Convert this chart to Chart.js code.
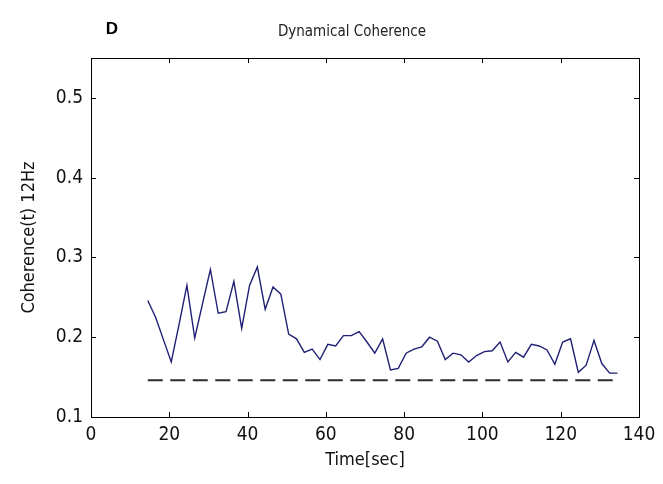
<!DOCTYPE html>
<html>
<head>
<meta charset="utf-8">
<script src="https://cdn.jsdelivr.net/npm/chart.js@4"></script>
<style>
  body { margin: 0; background: #fff; }
</style>
</head>
<body>
<canvas id="myChart" width="663" height="484"></canvas>
<script>
// Coherence over time (12 Hz)
const timeSec = [14.5, 16.5, 18.5, 20.5, 22.5, 24.5, 26.5, 28.5, 30.5, 32.5,
  34.5, 36.5, 38.5, 40.5, 42.5, 44.5, 46.5, 48.5, 50.5, 52.5,
  54.5, 56.5, 58.5, 60.5, 62.5, 64.5, 66.5, 68.5, 70.5, 72.5,
  74.5, 76.5, 78.5, 80.5, 82.5, 84.5, 86.5, 88.5, 90.5, 92.5,
  94.5, 96.5, 98.5, 100.5, 102.5, 104.5, 106.5, 108.5, 110.5, 112.5,
  114.5, 116.5, 118.5, 120.5, 122.5, 124.5, 126.5, 128.5, 130.5, 132.5, 134.5];
const coherence = [0.246, 0.225, 0.197, 0.169, 0.216, 0.265, 0.199, 0.242, 0.285, 0.230,
  0.232, 0.270, 0.211, 0.265, 0.288, 0.235, 0.263, 0.254, 0.204, 0.198,
  0.181, 0.185, 0.172, 0.191, 0.189, 0.202, 0.202, 0.207, 0.194, 0.180,
  0.198, 0.159, 0.161, 0.180, 0.185, 0.188, 0.200, 0.195, 0.172, 0.180,
  0.178, 0.169, 0.177, 0.182, 0.183, 0.194, 0.169, 0.181, 0.175, 0.191,
  0.189, 0.184, 0.166, 0.194, 0.198, 0.156, 0.165, 0.196, 0.167, 0.155, 0.155];

// significance level (dashed)
const thresholdTime = [14.5, 134.5];
const thresholdValue = [0.146, 0.146];

const xTicks = [0, 20, 40, 60, 80, 100, 120, 140];
const yTicks = [0.1, 0.2, 0.3, 0.4, 0.5];

const FONT = "'Liberation Sans Narrow', 'DejaVu Sans Condensed', Arial, sans-serif";

// MATLAB style box with inward ticks on all four sides + title & panel letter
const boxPlugin = {
  id: "box",
  afterDraw(chart) {
    const { ctx, chartArea: a, scales } = chart;
    ctx.save();
    ctx.strokeStyle = "#000";
    ctx.lineWidth = 1;
    ctx.strokeRect(Math.round(a.left) + 0.5, Math.round(a.top) + 0.5,
      Math.round(a.right - a.left), Math.round(a.bottom - a.top));
    ctx.beginPath();
    xTicks.forEach(v => {
      const px = Math.round(scales.x.getPixelForValue(v)) + 0.5;
      ctx.moveTo(px, a.bottom); ctx.lineTo(px, a.bottom - 5);
      ctx.moveTo(px, a.top); ctx.lineTo(px, a.top + 5);
    });
    yTicks.forEach(v => {
      const py = Math.round(scales.y.getPixelForValue(v)) + 0.5;
      ctx.moveTo(a.left, py); ctx.lineTo(a.left + 5, py);
      ctx.moveTo(a.right, py); ctx.lineTo(a.right - 5, py);
    });
    ctx.stroke();

    ctx.fillStyle = "#222";
    ctx.textAlign = "center";
    ctx.textBaseline = "middle";
    ctx.font = "15px " + FONT;
    ctx.fillText("Dynamical Coherence", 352, 32);
    ctx.fillStyle = "#000";
    ctx.font = "bold 17px Arial, 'Liberation Sans', sans-serif";
    ctx.fillText("D", 112, 29);
    ctx.restore();
  }
};

const data = {
  datasets: [
    {
      label: "Coherence",
      data: timeSec.map((t, i) => ({ x: t, y: coherence[i] })),
      borderColor: "rgb(32, 32, 118)",
      borderWidth: 1.4,
      pointRadius: 0,
      tension: 0,
    },
    {
      label: "Threshold",
      data: thresholdTime.map((t, i) => ({ x: t, y: thresholdValue[i] })),
      borderColor: "rgb(45, 45, 45)",
      borderWidth: 2,
      borderDash: [15, 7.5],
      pointRadius: 0,
    },
  ],
};

const config = {
  type: "line",
  data: data,
  options: {
    responsive: false,
    animation: false,
    layout: { padding: { left: 0, right: 24, top: 58, bottom: 0 } },
    plugins: { legend: { display: false }, tooltip: { enabled: false } },
    scales: {
      x: {
        type: "linear",
        min: 0,
        max: 140,
        afterBuildTicks: s => { s.ticks = xTicks.map(v => ({ value: v })); },
        afterFit: s => { s.height = 67; },
        grid: { display: false, drawTicks: false },
        border: { display: false },
        ticks: { color: "#111", padding: 7, font: { family: FONT, size: 19 }, maxRotation: 0 },
        title: { display: true, text: "Time[sec]", color: "#111",
          font: { family: FONT, size: 18 }, padding: { top: 0, bottom: 13 } },
      },
      y: {
        min: 0.1,
        max: 0.55,
        afterBuildTicks: s => { s.ticks = yTicks.map(v => ({ value: v })); },
        afterFit: s => { s.width = 91; },
        grid: { display: false, drawTicks: false },
        border: { display: false },
        ticks: { color: "#111", padding: 8, font: { family: FONT, size: 19 },
          callback: v => v.toFixed(1) },
        title: { display: true, text: "Coherence(t) 12Hz", color: "#111",
          font: { family: FONT, size: 18 }, padding: { top: 19, bottom: 0 } },
      },
    },
  },
  plugins: [boxPlugin],
};

const myChart = new Chart(document.getElementById("myChart"), config);
</script>
</body>
</html>
